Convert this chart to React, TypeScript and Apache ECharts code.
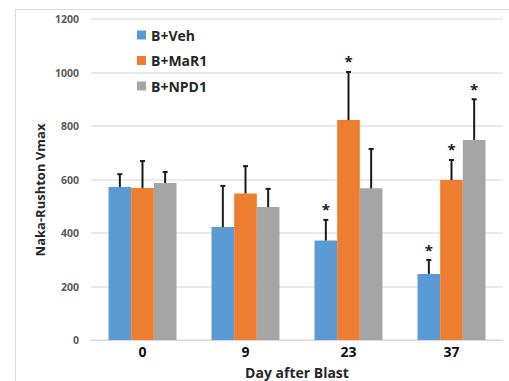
import React, { useEffect, useRef } from "react";
import * as echarts from "echarts";

const categories = ["0", "9", "23", "37"];
const seriesNames = ["B+Veh", "B+MaR1", "B+NPD1"];
const vehValues = [572, 422, 372, 247];
const mar1Values = [568, 548, 822, 598];
const npd1Values = [587, 497, 567, 748];
const vehErrors = [48, 154, 77, 52];
const mar1Errors = [101, 102, 180, 75];
const npd1Errors = [41, 68, 147, 152];
const vehStars = [0, 0, 1, 1];
const mar1Stars = [0, 0, 1, 1];
const npd1Stars = [0, 0, 0, 1];
const yTicks = [0, 200, 400, 600, 800, 1000, 1200];
const colors = ["#5b9bd5", "#ed7d31", "#a5a5a5"];

const FONT = "'Open Sans', 'Liberation Sans', sans-serif";

export default function App() {
  const ref = useRef<HTMLDivElement>(null);
  useEffect(() => {
    if (!ref.current) return;
    const chart = echarts.init(ref.current, null, { renderer: "svg" });
    const values = [vehValues, mar1Values, npd1Values];
    const errors = [vehErrors, mar1Errors, npd1Errors];
    const stars = [vehStars, mar1Stars, npd1Stars];
    const catGap = 0.34;

    const barSeries = seriesNames.map((name, i) => ({
      name,
      type: "bar",
      data: values[i],
      barGap: "0%",
      barCategoryGap: "34%",
      itemStyle: { color: colors[i] },
      z: 2,
    }));

    const errSeries = seriesNames.map((name, si) => ({
      name: name + "-err",
      type: "custom",
      z: 3,
      silent: true,
      data: values[si].map((v, k) => [k, v, errors[si][k], stars[si][k]]),
      renderItem: (params: any, api: any) => {
        const idx = api.value(0);
        const v = api.value(1);
        const e = api.value(2);
        const s = api.value(3);
        const band = api.size([1, 0])[0];
        const bw = (band * (1 - catGap)) / 3;
        const base = api.coord([idx, v]);
        const x = base[0] + (si - 1) * bw;
        const y0 = base[1];
        const y1 = api.coord([idx, v + e])[1];
        const children: any[] = [
          { type: "line", shape: { x1: x, y1: y0, x2: x, y2: y1 }, style: { stroke: "#1a1a1a", lineWidth: 2 } },
          { type: "line", shape: { x1: x - 2.5, y1: y1, x2: x + 2.5, y2: y1 }, style: { stroke: "#1a1a1a", lineWidth: 2 } },
        ];
        if (s) {
          children.push({
            type: "text",
            style: {
              text: "*",
              x: x,
              y: y1 - 3,
              align: "center",
              verticalAlign: "bottom",
              fontSize: 15,
              fontWeight: "bold",
              fontFamily: FONT,
              fill: "#1a1a1a",
            },
          });
        }
        return { type: "group", children };
      },
    }));

    chart.setOption({
      animation: false,
      grid: { left: 91, right: 6, top: 19, bottom: 41 },
      legend: {
        data: seriesNames,
        orient: "vertical",
        left: 137,
        top: 27,
        padding: 0,
        itemWidth: 9,
        itemHeight: 9,
        itemGap: 9.5,
        icon: "rect",
        textStyle: { fontSize: 14, fontWeight: "bold", color: "#262626", fontFamily: FONT, lineHeight: 16, padding: [0, 0, 0, 0] },
      },
      xAxis: {
        type: "category",
        data: categories,
        axisTick: { show: false },
        axisLine: { lineStyle: { color: "#d9d9d9", width: 1 } },
        axisLabel: { fontSize: 14, fontWeight: "bold", color: "#111", fontFamily: FONT, margin: 4 },
      },
      yAxis: {
        type: "value",
        min: yTicks[0],
        max: yTicks[yTicks.length - 1],
        interval: 200,
        axisLine: { show: false },
        axisTick: { show: false },
        splitLine: { lineStyle: { color: "#e3e3e3", width: 1.5 } },
        axisLabel: {
          fontSize: 10.5,
          fontWeight: "bold",
          color: "#595959",
          fontFamily: FONT,
          margin: 12,
          formatter: (v: number) => String(v),
        },
      },
      graphic: [
        { type: "line", shape: { x1: 15, y1: 9.5, x2: 509, y2: 9.5 }, style: { stroke: "#d9d9d9", lineWidth: 1 } },
        { type: "line", shape: { x1: 15.5, y1: 9, x2: 15.5, y2: 381 }, style: { stroke: "#d9d9d9", lineWidth: 1 } },
        {
          type: "text",
          x: 40,
          y: 190,
          rotation: Math.PI / 2,
          style: {
            text: "Naka-Rushton Vmax",
            align: "center",
            verticalAlign: "middle",
            fontSize: 13,
            fontWeight: "bold",
            fontFamily: FONT,
            fill: "#262626",
          },
        },
        {
          type: "text",
          x: 297,
          y: 372,
          style: {
            text: "Day after Blast",
            align: "center",
            verticalAlign: "middle",
            fontSize: 14,
            fontWeight: "bold",
            fontFamily: FONT,
            fill: "#262626",
          },
        },
      ],
      series: [...barSeries, ...errSeries],
    });
    return () => chart.dispose();
  }, []);
  return <div ref={ref} style={{ width: 509, height: 381, position: "absolute", left: 0, top: 0 }} />;
}
